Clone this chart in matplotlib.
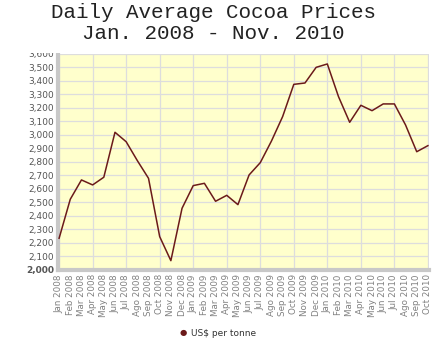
import matplotlib
matplotlib.use("Agg")
import matplotlib.pyplot as plt
from matplotlib.patches import Rectangle

# Monthly labels (note "Ago" as in the original)
months = ["Jan", "Feb", "Mar", "Apr", "May", "Jun", "Jul", "Ago", "Sep", "Oct", "Nov", "Dec"]
labels = [f"{m} {y}" for y in (2008, 2009, 2010) for m in months][:34]

# US$ per tonne
prices = [2235, 2524, 2667, 2630, 2687, 3020, 2950, 2810, 2679, 2247, 2069, 2457,
          2625, 2642, 2509, 2553, 2484, 2704, 2795, 2955, 3136, 3375, 3385, 3501,
          3526, 3284, 3094, 3220, 3180, 3230, 3230, 3074, 2876, 2921]

yticks = list(range(2000, 3601, 100))

fig = plt.figure(figsize=(4.36, 3.46), dpi=100)
ax = fig.add_axes([0.133, 0.2197, 0.851, 0.6243])
ax.set_facecolor("#ffffcc")

x = list(range(len(prices)))
ax.plot(x, prices, color="#6b1a1a", lw=1.1, zorder=3)

ax.set_xlim(-0.1, len(prices) - 0.9)
ax.set_ylim(2000, 3600)
ax.set_yticks(yticks)
ax.set_yticklabels([f"{v:,}" for v in yticks], fontsize=6.5, color="#555555")
ax.get_yticklabels()[0].set_fontweight("bold")
ax.set_xticks(x)
ax.set_xticklabels(labels, rotation=90, fontsize=6.3, color="#808080")
ax.tick_params(length=0, pad=3)

# grid: every 100 on y, every third month on x
for v in yticks:
    ax.axhline(v, color="#dddddd", lw=0.9, zorder=1)
for i in range(0, len(prices), 3):
    ax.axvline(i, color="#dddddd", lw=0.9, zorder=1)

for side in ("top", "right"):
    ax.spines[side].set_visible(False)
for side in ("left", "bottom"):
    ax.spines[side].set_color("#c8c8c8")
    ax.spines[side].set_linewidth(3)

# cover the clipped top label as in the original
fig.patches.append(Rectangle((0, 0.847), 1, 0.2, transform=fig.transFigure,
                             facecolor="white", edgecolor="none", zorder=5))

fig.text(0.49, 0.99, "Daily Average Cocoa Prices\nJan. 2008 - Nov. 2010",
         ha="center", va="top", family="Liberation Mono", fontsize=15,
         color="#222222", linespacing=1.12, zorder=6)

# legend
fig.text(0.42, 0.038, "\u25cf", color="#6b1a1a", fontsize=6, ha="center", va="center")
fig.text(0.437, 0.036, "US$ per tonne", fontsize=6.5, color="#333333", va="center")

fig.savefig("out.png", dpi=100)
